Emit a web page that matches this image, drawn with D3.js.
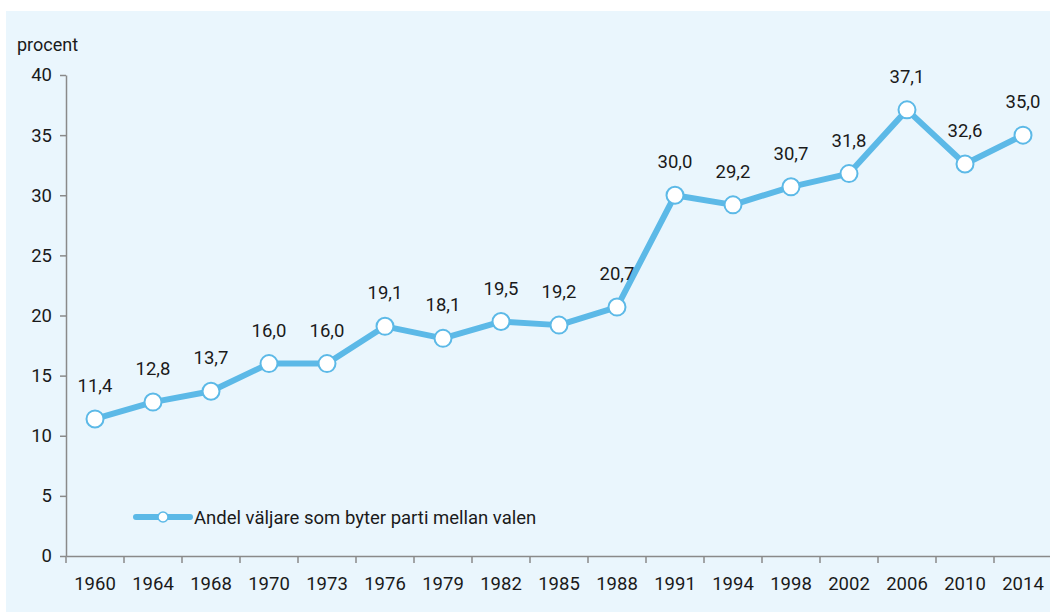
<!DOCTYPE html>
<html lang="sv">
<head>
  <meta charset="UTF-8" />
  <title>Andel väljare som byter parti</title>
  <style>
    body { margin:0; background:#fff; font-family:Roboto, sans-serif; }
    svg { display:block; }
    text { font-family:Roboto, sans-serif; }
  </style>
</head>
<body>
  <svg id="chart" width="1050" height="612"></svg>
  <script src="https://d3js.org/d3.v7.min.js"></script>
  <script>
  // data
  const years  = ["1960","1964","1968","1970","1973","1976","1979","1982","1985","1988",
                  "1991","1994","1998","2002","2006","2010","2014"];
  const values = [11.4,12.8,13.7,16.0,16.0,19.1,18.1,19.5,19.2,20.7,
                  30.0,29.2,30.7,31.8,37.1,32.6,35.0];
  const yTicks = [0,5,10,15,20,25,30,35,40];
  const seriesName = "Andel väljare som byter parti mellan valen";
  const yTitle = "procent";

  const blue = "#5cb9e7", axisCol = "#8a8a8a", txt = "#1a1a1a";
  const fmt = v => v.toFixed(1).replace(".", ",");

  const svg = d3.select("#chart");
  svg.append("rect").attr("x",6).attr("y",11).attr("width",1044).attr("height",601)
     .attr("fill","#eaf6fd");

  const x = d3.scaleBand().domain(years).range([66,1052]);
  const y = d3.scaleLinear().domain([0,40]).range([556,75]);

  // y axis
  const gy = svg.append("g").attr("transform","translate(66,0)")
    .call(d3.axisLeft(y).tickValues(yTicks).tickSize(6).tickPadding(8).tickSizeOuter(0));
  gy.select(".domain").attr("stroke",axisCol).attr("stroke-width",1.5);
  gy.selectAll(".tick line").attr("stroke",axisCol).attr("stroke-width",1.5);
  gy.selectAll("text").attr("fill",txt).style("font-size","18.5px")
    .style("font-family","Roboto, sans-serif");

  // x axis
  const gx = svg.append("g").attr("transform","translate(0,556)")
    .call(d3.axisBottom(x).tickSize(0).tickPadding(0).tickSizeOuter(0));
  gx.select(".domain").attr("stroke",axisCol).attr("stroke-width",1.5);
  gx.selectAll("text").attr("fill",txt).attr("dy",0).attr("y",34)
    .style("font-size","18.5px").style("font-family","Roboto, sans-serif");
  // tick marks sit between the years
  gx.selectAll(".sep").data(years).join("line").attr("class","sep")
    .attr("x1",d=>x(d)).attr("x2",d=>x(d)).attr("y1",0).attr("y2",7)
    .attr("stroke",axisCol).attr("stroke-width",1.5);

  svg.append("text").attr("x",17).attr("y",51).attr("fill",txt)
     .style("font-size","18px").text(yTitle);

  const cx = (d,i) => x(years[i]) + x.bandwidth()/2;

  svg.append("path").datum(values)
     .attr("fill","none").attr("stroke",blue).attr("stroke-width",6)
     .attr("stroke-linejoin","round")
     .attr("d", d3.line().x(cx).y(d=>y(d)));

  svg.append("g").selectAll("circle").data(values).join("circle")
     .attr("cx",cx).attr("cy",d=>y(d)).attr("r",8.5)
     .attr("fill","#fff").attr("stroke",blue).attr("stroke-width",2);

  svg.append("g").selectAll("text").data(values).join("text")
     .attr("x",cx).attr("y",d=>y(d)-27).attr("text-anchor","middle")
     .attr("fill",txt).style("font-size","18.5px").text(fmt);

  // legend
  const lg = svg.append("g").attr("transform","translate(136,517)");
  lg.append("line").attr("x1",0).attr("x2",54).attr("y1",0).attr("y2",0)
    .attr("stroke",blue).attr("stroke-width",6).attr("stroke-linecap","round");
  lg.append("circle").attr("cx",27).attr("cy",0).attr("r",5)
    .attr("fill","#fff").attr("stroke",blue).attr("stroke-width",1.5);
  lg.append("text").attr("x",58).attr("y",7).attr("fill",txt)
    .style("font-size","18.5px").text(seriesName);
  </script>
</body>
</html>
